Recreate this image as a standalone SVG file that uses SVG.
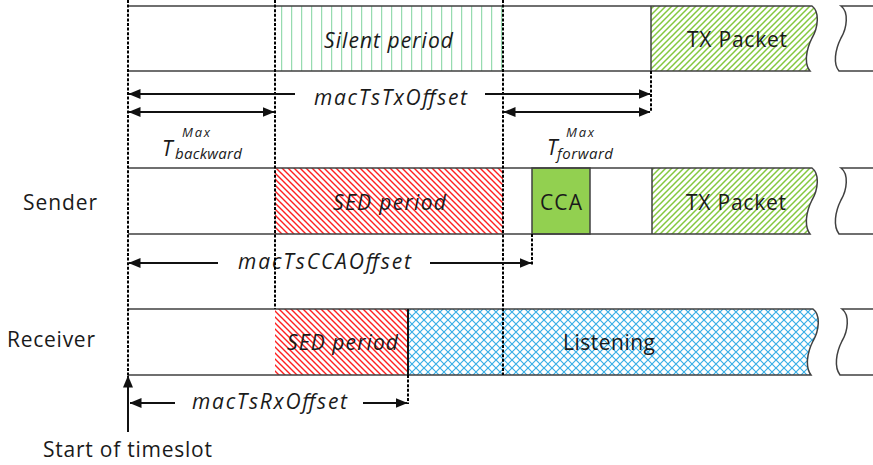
<svg xmlns="http://www.w3.org/2000/svg" width="873" height="465" viewBox="0 0 873 465">
<style>
.t{font-family:"Open Sans","Noto Sans","Liberation Sans",sans-serif;fill:#1a1a1a;font-size:21px}
.i{font-style:italic}
.s{font-size:13px}
.m{font-size:15px}
.b{fill:none;stroke:#404040;stroke-width:1.5}
.d{stroke:#000;stroke-width:2;stroke-dasharray:3 1.6;fill:none}
.a{stroke:#111;stroke-width:2;fill:none}
</style>
<defs>
<pattern id="pSil" width="10" height="10" patternUnits="userSpaceOnUse"><line x1="1.7" y1="0" x2="1.7" y2="10" stroke="#7fd39e" stroke-width="1"/></pattern>
<pattern id="pRed" width="6" height="6" patternUnits="userSpaceOnUse"><path d="M-1,-1 L7,7 M-1,5 L1,7 M5,-1 L7,1" stroke="#ff2020" stroke-width="1.4"/></pattern>
<pattern id="pGreen" width="6" height="6" patternUnits="userSpaceOnUse"><path d="M-1,7 L7,-1 M-1,1 L1,-1 M5,7 L7,5" stroke="#84c83e" stroke-width="1.5"/></pattern>
<pattern id="pBlue" width="8" height="8" patternUnits="userSpaceOnUse"><path d="M0,0 L8,8 M8,0 L0,8" stroke="#38aee6" stroke-width="1.2"/></pattern>
<marker id="ah" viewBox="0 0 12 10" refX="11.5" refY="5" markerWidth="12" markerHeight="10" markerUnits="userSpaceOnUse" orient="auto-start-reverse"><path d="M0,0 L12,5 L0,10 Z" fill="#111"/></marker>
</defs>
<rect width="873" height="465" fill="#fff"/>

<g id="top-row">
<rect x="275" y="6" width="228" height="65" fill="url(#pSil)"/>
<path d="M651,6 H812 C820,12 818,28 812,38 C806,50 804,64 810,71 H651 Z" fill="url(#pGreen)"/>
<path class="b" d="M128,6 H812 C820,12 818,28 812,38 C806,50 804,64 810,71 H128"/>
<line class="b" x1="651" y1="6" x2="651" y2="71"/>
<path class="b" d="M873,6 H841 C849,12 847,28 841,38 C835,50 833,64 839,71 H873"/>
<text class="t i" x="324" y="48" textLength="129">Silent period</text>
<text class="t" x="687" y="47" textLength="100">TX Packet</text>
</g>

<g id="sender-row">
<rect x="275" y="168" width="228" height="66" fill="url(#pRed)"/>
<rect x="532" y="168" width="58" height="66" fill="#92d050" stroke="#404040" stroke-width="1.5"/>
<path d="M652,168 H812 C820,174 818,190 812,200 C806,212 804,226 810,234 H652 Z" fill="url(#pGreen)"/>
<path class="b" d="M128,168 H812 C820,174 818,190 812,200 C806,212 804,226 810,234 H128"/>
<line class="b" x1="652" y1="168" x2="652" y2="234"/>
<path class="b" d="M873,168 H841 C849,174 847,190 841,200 C835,212 833,226 839,234 H873"/>
<text class="t i" x="333" y="210" textLength="113">SED period</text>
<text class="t" x="540" y="210" textLength="42">CCA</text>
<text class="t" x="686" y="210" textLength="100">TX Packet</text>
</g>

<g id="receiver-row">
<rect x="275" y="309" width="133" height="66" fill="url(#pRed)"/>
<path d="M408,309 H813 C821,315 819,331 813,341 C807,353 805,367 811,375 H408 Z" fill="url(#pBlue)"/>
<path class="b" d="M128,309 H813 C821,315 819,331 813,341 C807,353 805,367 811,375 H128"/>
<line stroke="#111" stroke-width="2" x1="408" y1="309" x2="408" y2="375"/>
<path class="b" d="M873,309 H842 C850,315 848,331 842,341 C836,353 834,367 840,375 H873"/>
<text class="t i" x="287" y="350" textLength="111">SED period</text>
<text class="t" x="563" y="350" textLength="92">Listening</text>
</g>

<g id="labels">
<text class="t" x="23" y="210" textLength="74">Sender</text>
<text class="t" x="7" y="347" textLength="88">Receiver</text>
<text class="t" x="43" y="457" textLength="169">Start of timeslot</text>
<text class="t i" x="314" y="105" textLength="153">macTsTxOffset</text>
<text class="t i" x="238" y="269" textLength="173">macTsCCAOffset</text>
<text class="t i" x="192" y="409" textLength="155">macTsRxOffset</text>
<g id="t-backward">
<text class="t i" x="162" y="156" font-size="22">T</text>
<text class="t i s" x="182" y="137" textLength="28">Max</text>
<text class="t i m" x="175" y="159" textLength="67">backward</text>
</g>
<g id="t-forward">
<text class="t i" x="547" y="155" font-size="22">T</text>
<text class="t i s" x="566" y="137" textLength="28">Max</text>
<text class="t i m" x="557" y="159" textLength="56">forward</text>
</g>
</g>

<g id="connectors">
<line class="d" x1="128" y1="0" x2="128" y2="376"/>
<line class="d" x1="275" y1="0" x2="275" y2="309"/>
<line class="d" x1="503" y1="0" x2="503" y2="375"/>
<line class="d" x1="651" y1="71" x2="651" y2="112"/>
<line class="d" x1="532" y1="234" x2="532" y2="266"/>
<line class="d" x1="408" y1="375" x2="408" y2="404"/>
<line class="a" x1="128" y1="432" x2="128" y2="376" marker-end="url(#ah)"/>
<line class="a" x1="295" y1="94" x2="129" y2="94" marker-end="url(#ah)"/>
<line class="a" x1="485" y1="94" x2="650" y2="94" marker-end="url(#ah)"/>
<line class="a" x1="129" y1="112" x2="274" y2="112" marker-start="url(#ah)" marker-end="url(#ah)"/>
<line class="a" x1="504" y1="112" x2="650" y2="112" marker-start="url(#ah)" marker-end="url(#ah)"/>
<line class="a" x1="218" y1="263" x2="129" y2="263" marker-end="url(#ah)"/>
<line class="a" x1="430" y1="263" x2="531" y2="263" marker-end="url(#ah)"/>
<line class="a" x1="175" y1="403" x2="130" y2="403" marker-end="url(#ah)"/>
<line class="a" x1="363" y1="403" x2="407" y2="403" marker-end="url(#ah)"/>
</g>
</svg>
